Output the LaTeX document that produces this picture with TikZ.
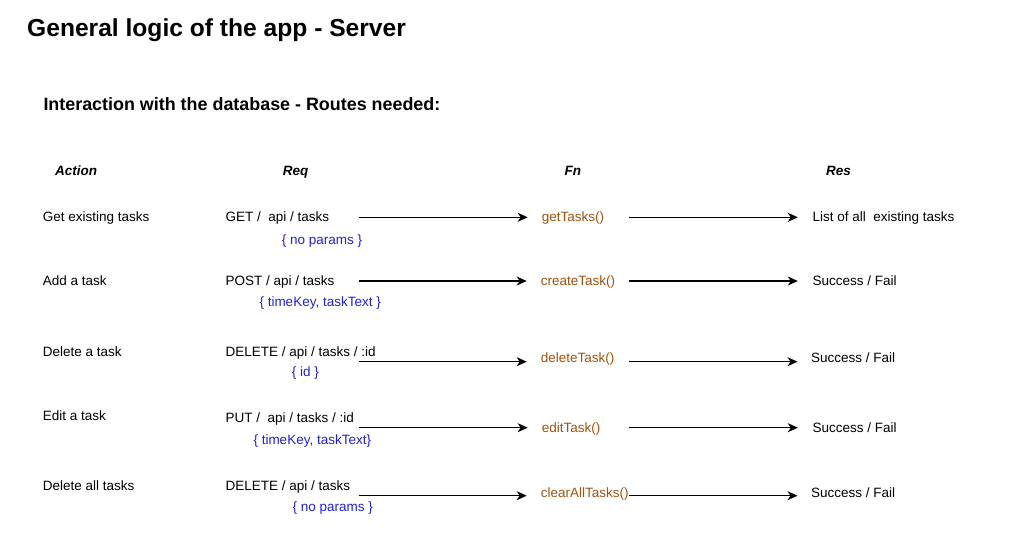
\documentclass[tikz,border=0pt]{standalone}
\usepackage{fontspec}
\setmainfont{Liberation Sans}
\usetikzlibrary{arrows.meta}
\definecolor{fncolor}{HTML}{A0520F}
\definecolor{parcolor}{HTML}{2020DD}
\tikzset{
	txt/.style={anchor=base west, inner sep=0pt, font=\fontsize{13.5}{16}\selectfont},
	head/.style={txt, font=\fontsize{13.5}{16}\selectfont\bfseries\itshape},
	fn/.style={txt, text=fncolor},
	par/.style={txt, text=parcolor},
	flow/.style={line width=1.2pt, -{Stealth[length=10pt,width=9pt,inset=3pt]}}
}

\begin{document}
\begin{tikzpicture}[x=1pt, y=-1pt]
			%%%%% START %%%%%
			
			\useasboundingbox (0, 0) rectangle (1021, 542);
			
			\node[txt, font=\fontsize{24.6}{28}\selectfont\bfseries] (title) at (27, 36.7) {General logic of the app - Server};
			\node[txt, font=\fontsize{17.9}{20}\selectfont\bfseries] (subtitle) at (43.3, 110) {Interaction with the database - Routes needed:};
			
			\node[head] (action) at (55, 175.7) {Action};
			\node[head] (req) at (282.7, 175.7) {Req};
			\node[head] (fn) at (564.3, 175.5) {Fn};
			\node[head] (res) at (826, 175.5) {Res};
			
			% get
			\node[txt] (act1) at (42.7, 221.7) {Get existing tasks};
			\node[txt] (req1) at (225.5, 221.7) {GET /~ api / tasks};
			\node[par] (par1) at (281.7, 244) {\{ no params \}};
			\node[fn] (fn1) at (541.7, 221.7) {getTasks()};
			\node[txt] (res1) at (812.3, 221.7) {List of all~ existing tasks};
			\coordinate (from1) at (358.5, 217.3);
			\coordinate (mid1) at (629, 217.3);
			
			% add
			\node[txt] (act2) at (42.7, 285.7) {Add a task};
			\node[txt] (req2) at (225.5, 285.7) {POST / api / tasks};
			\node[par] (par2) at (259.3, 306.7) {\{ timeKey, taskText \}};
			\node[fn] (fn2) at (540.7, 285.7) {createTask()};
			\node[txt] (res2) at (812.3, 285.7) {Success / Fail};
			\coordinate (from2) at (358.5, 281);
			\coordinate (mid2) at (629, 281);
			
			% delete one
			\node[txt] (act3) at (42.7, 356) {Delete a task};
			\node[txt] (req3) at (225.5, 356) {DELETE / api / tasks / :id};
			\node[par] (par3) at (291.7, 376.7) {\{ id \}};
			\node[fn] (fn3) at (540.7, 362) {deleteTask()};
			\node[txt] (res3) at (811, 362) {Success / Fail};
			\coordinate (from3) at (358.5, 361.7);
			\coordinate (mid3) at (629, 361.7);
			
			% edit
			\node[txt] (act4) at (42.7, 420) {Edit a task};
			\node[txt] (req4) at (225.5, 422.7) {PUT /~ api / tasks / :id};
			\node[par] (par4) at (253.3, 444.3) {\{ timeKey, taskText\}};
			\node[fn] (fn4) at (541.7, 432.3) {editTask()};
			\node[txt] (res4) at (812.3, 432.3) {Success / Fail};
			\coordinate (from4) at (358.5, 427.7);
			\coordinate (mid4) at (629, 427.7);
			
			% delete all
			\node[txt] (act5) at (42.7, 490.3) {Delete all tasks};
			\node[txt] (req5) at (225.5, 490.3) {DELETE / api / tasks};
			\node[par] (par5) at (292.3, 511.7) {\{ no params \}};
			\node[fn] (fn5) at (540.7, 497.7) {clearAllTasks()};
			\node[txt] (res5) at (811, 497.7) {Success / Fail};
			\coordinate (from5) at (358.5, 495.7);
			\coordinate (mid5) at (629, 495.7);
			
			\draw[flow, shorten >=14pt] (from1) -- (from1 -| fn1.west);
			\draw[flow, shorten >=14.5pt] (mid1) -- (mid1 -| res1.west);
			\draw[flow, shorten >=14pt] (from2) -- (from2 -| fn2.west);
			\draw[flow, shorten >=14.5pt] (mid2) -- (mid2 -| res2.west);
			\draw[flow, shorten >=14pt] (from3) -- (from3 -| fn3.west);
			\draw[flow, shorten >=13.5pt] (mid3) -- (mid3 -| res3.west);
			\draw[flow, shorten >=14pt] (from4) -- (from4 -| fn4.west);
			\draw[flow, shorten >=14.5pt] (mid4) -- (mid4 -| res4.west);
			\draw[flow, shorten >=14pt] (from5) -- (from5 -| fn5.west);
			\draw[flow, shorten >=13.5pt] (mid5) -- (mid5 -| res5.west);
			
			%%%%% END %%%%%
		\end{tikzpicture}
\end{document}
